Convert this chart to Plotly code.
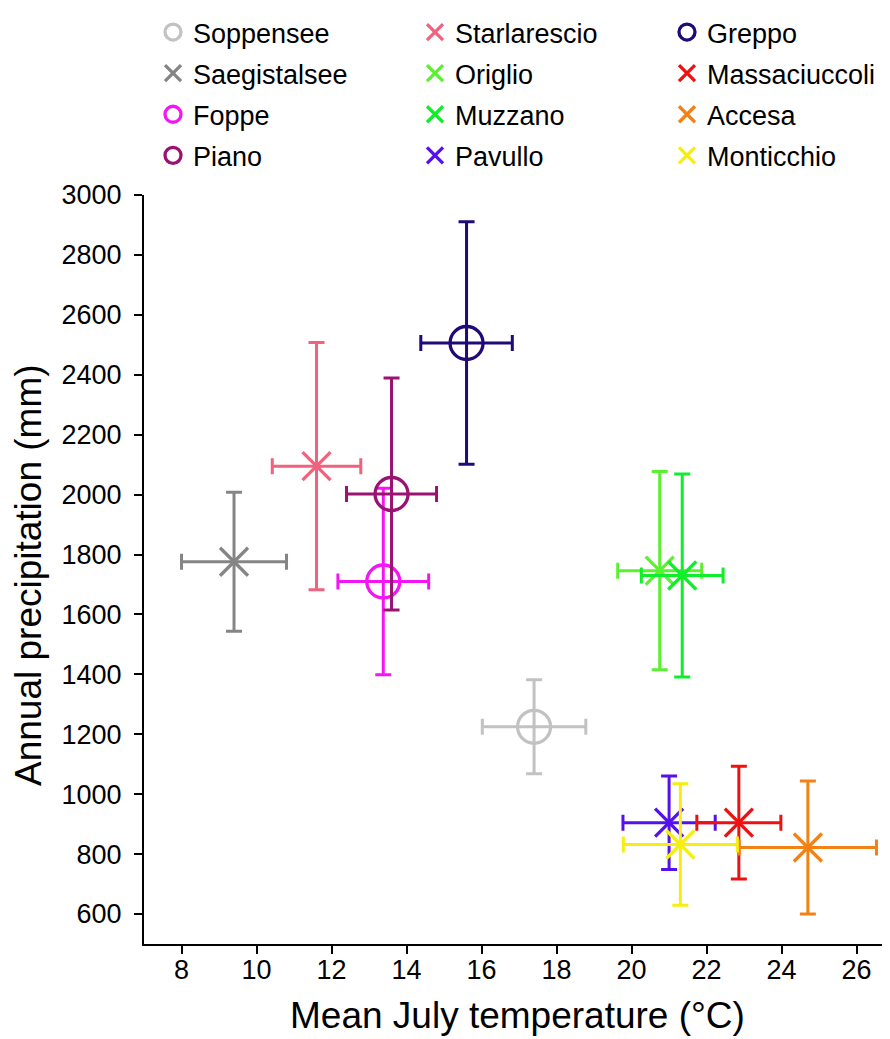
import plotly.graph_objects as go

sites = ["Soppensee", "Saegistalsee", "Foppe", "Piano",
         "Starlarescio", "Origlio", "Muzzano", "Pavullo",
         "Greppo", "Massaciuccoli", "Accesa", "Monticchio"]
temp = [17.4, 9.4, 13.38, 13.6, 11.6, 20.75, 21.35, 21.0, 15.6, 22.86, 24.7, 21.3]
temp_err = [1.38, 1.4, 1.21, 1.2, 1.18, 1.12, 1.09, 1.23, 1.22, 1.12, 1.83, 1.52]
precip = [1225, 1776, 1710, 2002, 2095, 1746, 1730, 905, 2506, 905, 822, 832]
precip_err = [157, 232, 311, 387, 413, 331, 339, 156, 405, 188, 222, 203]
symbols = ["circle-open", "x-thin-open", "circle-open", "circle-open",
           "x-thin-open", "x-thin-open", "x-thin-open", "x-thin-open",
           "circle-open", "x-thin-open", "x-thin-open", "x-thin-open"]
colors = ["#c2c2c2", "#858585", "#f414f4", "#9a1272",
          "#f0627e", "#5cf032", "#10ee2a", "#5511ec",
          "#200a78", "#ee1111", "#f28216", "#f6ee12"]
legend_ids = ["legend"] * 4 + ["legend2"] * 4 + ["legend3"] * 4

x_ticks = [8, 10, 12, 14, 16, 18, 20, 22, 24, 26]
y_ticks = [600, 800, 1000, 1200, 1400, 1600, 1800, 2000, 2200, 2400, 2600, 2800, 3000]

FONT = "Liberation Sans, Arial, Helvetica, sans-serif"

fig = go.Figure()
for i, s in enumerate(sites):
    sym = symbols[i]
    is_circle = sym.startswith("circle")
    fig.add_trace(go.Scatter(
        x=[temp[i]], y=[precip[i]], mode="markers", name=s,
        legend=legend_ids[i], legendgroup=s,
        marker=dict(symbol=sym, size=33 if is_circle else 28,
                    color=colors[i], line=dict(color=colors[i], width=3.3)),
        error_x=dict(type="data", array=[temp_err[i]], color=colors[i],
                     thickness=3, width=8),
        error_y=dict(type="data", array=[precip_err[i]], color=colors[i],
                     thickness=3, width=8),
    ))

axis_common = dict(showgrid=False, zeroline=False, showline=True,
                   linecolor="black", linewidth=2, ticks="outside",
                   ticklen=8, tickwidth=2, tickcolor="black",
                   tickfont=dict(family=FONT, size=27, color="black"))

fig.update_xaxes(range=[7, 26.89], tickvals=x_ticks, ticklabelstandoff=-7,
                 **axis_common)
fig.update_yaxes(range=[500, 3000], tickvals=y_ticks, ticklabelstandoff=7,
                 **axis_common)

leg_common = dict(orientation="v", yanchor="top", xanchor="left",
                  font=dict(family=FONT, size=27, color="black"),
                  bgcolor="rgba(0,0,0,0)", tracegroupgap=3,
                  itemsizing="trace")
# page body has an 8px margin: figure is sized/offset to compensate
fig.update_layout(
    width=882, height=1031,
    margin=dict(l=136, r=0, t=187, b=95),
    plot_bgcolor="white", paper_bgcolor="white",
    showlegend=True,
    legend=dict(x=9 / 746, y=1.25, **leg_common),
    legend2=dict(x=(415 - 144) / 746, y=1.25, **leg_common),
    legend3=dict(x=(667 - 144) / 746, y=1.25, **leg_common),
    annotations=[
        dict(text="Mean July temperature (°C)", xref="paper", yref="paper",
             x=0.5, y=(944 - 1015) / 749, xanchor="center", yanchor="middle",
             showarrow=False, font=dict(family=FONT, size=37, color="black")),
        dict(text="Annual precipitation (mm)", xref="paper", yref="paper",
             x=(28 - 144) / 746, y=(944 - 575) / 749, xanchor="center",
             yanchor="middle", textangle=-90, showarrow=False,
             font=dict(family=FONT, size=37, color="black")),
    ],
)

fig.write_html("out.html")
